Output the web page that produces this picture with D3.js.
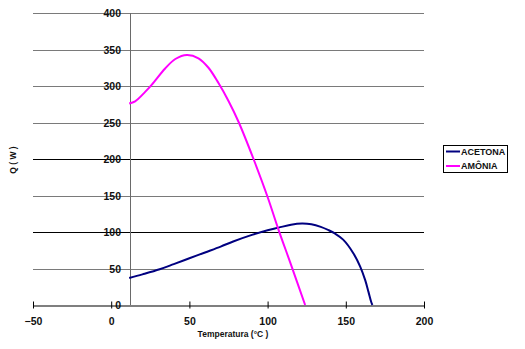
<!DOCTYPE html>
<html>
<head>
<meta charset="utf-8">
<script src="https://cdn.jsdelivr.net/npm/d3@7"></script>
<style>
  html, body { margin: 0; padding: 0; background: #fff; }
  svg { display: block; font-family: Arial, "Liberation Sans", sans-serif; }
</style>
</head>
<body>
<svg id="chart" width="525" height="349"></svg>
<script>
// Heat transfer Q (W) versus temperature for two working fluids
const xTicks = [-50, 0, 50, 100, 150, 200];
const yTicks = [0, 50, 100, 150, 200, 250, 300, 350, 400];
const seriesNames = ["ACETONA", "AMÔNIA"];

const acetonaT = [11.5, 20, 31, 40, 50, 60, 70, 78, 90, 100, 107, 115, 122, 128, 134, 139, 143, 148.3, 154.8, 159.2, 162.4, 164.5, 166.2, 167];
const acetonaQ = [37, 42, 49, 56, 64, 72, 80, 87, 96, 102.5, 106, 110, 111.5, 110.5, 107, 102.5, 98, 89.5, 71, 52.5, 34, 18, 4.5, 0];

const amoniaT = [11.5, 15.3, 21.7, 26, 34.5, 41, 48.4, 55.8, 62.2, 68.6, 75, 81.4, 91, 100, 107, 115, 124];
const amoniaQ = [276, 279, 292, 302, 324, 337, 342.5, 338, 325, 304, 279.5, 251, 200, 148, 103, 55, 0];

const yAxisAt = 12;       // temperature where the vertical axis crosses
const colors = ["#000080", "#ff00ff"];

const svg = d3.select("#chart");
const x = d3.scaleLinear().domain([-50, 200]).range([33, 424]);
const y = d3.scaleLinear().domain([0, 400]).range([305, 13]);

// horizontal gridlines (the 100 and 200 lines print darker)
svg.append("g").selectAll("line").data(yTicks.filter(d => d > 0)).join("line")
  .attr("x1", x(-50)).attr("x2", x(200))
  .attr("y1", d => Math.round(y(d)) + 0.5).attr("y2", d => Math.round(y(d)) + 0.5)
  .attr("stroke", d => (d === 100 || d === 200) ? "#000" : "#7a7a7a")
  .attr("stroke-width", 1);

// vertical axis
svg.append("line")
  .attr("x1", Math.round(x(yAxisAt)) + 0.5).attr("x2", Math.round(x(yAxisAt)) + 0.5)
  .attr("y1", y(400)).attr("y2", y(0))
  .attr("stroke", "#6a6a6a").attr("stroke-width", 1);

// y tick labels
svg.append("g").selectAll("text").data(yTicks).join("text")
  .attr("x", 121).attr("y", d => y(d) + 4)
  .attr("text-anchor", "end")
  .attr("font-size", "10.5px").attr("font-weight", "bold")
  .attr("fill", "#111")
  .text(d => d);

// horizontal axis with crossing ticks
const xAxis = d3.axisBottom(x).tickValues(xTicks).tickSize(0).tickFormat(d3.format("d"));
const gx = svg.append("g").attr("transform", `translate(0,${Math.round(y(0)) + 0.5})`).call(xAxis);
gx.select(".domain").attr("stroke", "#000").attr("stroke-width", 1.2);
gx.selectAll(".tick text")
  .attr("dy", null).attr("y", 19)
  .attr("font-size", "10.5px").attr("font-weight", "bold")
  .attr("font-family", "Arial, 'Liberation Sans', sans-serif")
  .attr("fill", "#111");
gx.selectAll(".tick").append("line")
  .attr("y1", -4).attr("y2", 3).attr("stroke", "#000");

// series lines
const line = d3.line().x(d => x(d[0])).y(d => y(d[1])).curve(d3.curveCatmullRom.alpha(0.5));
const acetona = acetonaT.map((t, i) => [t, acetonaQ[i]]);
const amonia = amoniaT.map((t, i) => [t, amoniaQ[i]]);
[acetona, amonia].forEach((pts, i) => {
  svg.append("path").datum(pts)
    .attr("d", line)
    .attr("fill", "none")
    .attr("stroke", colors[i])
    .attr("stroke-width", 2)
    .attr("stroke-linejoin", "round");
});

// axis titles
svg.append("text")
  .attr("x", 233).attr("y", 337)
  .attr("text-anchor", "middle")
  .attr("font-size", "8.5px").attr("font-weight", "bold")
  .attr("fill", "#111")
  .text("Temperatura (°C )");

svg.append("text")
  .attr("transform", "translate(16,160) rotate(-90)")
  .attr("text-anchor", "middle")
  .attr("font-size", "8.5px").attr("font-weight", "bold")
  .attr("fill", "#111")
  .text("Q ( W )");

// legend
const lg = svg.append("g");
lg.append("rect")
  .attr("x", 443.5).attr("y", 145.5).attr("width", 64).attr("height", 27)
  .attr("fill", "#fff").attr("stroke", "#000").attr("stroke-width", 1);
seriesNames.forEach((name, i) => {
  const yy = 151.5 + i * 14.5;
  lg.append("line")
    .attr("x1", 446).attr("x2", 460).attr("y1", yy).attr("y2", yy)
    .attr("stroke", colors[i]).attr("stroke-width", 2);
  lg.append("text")
    .attr("x", 461).attr("y", yy + 3.3)
    .attr("font-size", "9px").attr("font-weight", "bold")
    .attr("fill", "#111")
    .text(name);
});
</script>
</body>
</html>
